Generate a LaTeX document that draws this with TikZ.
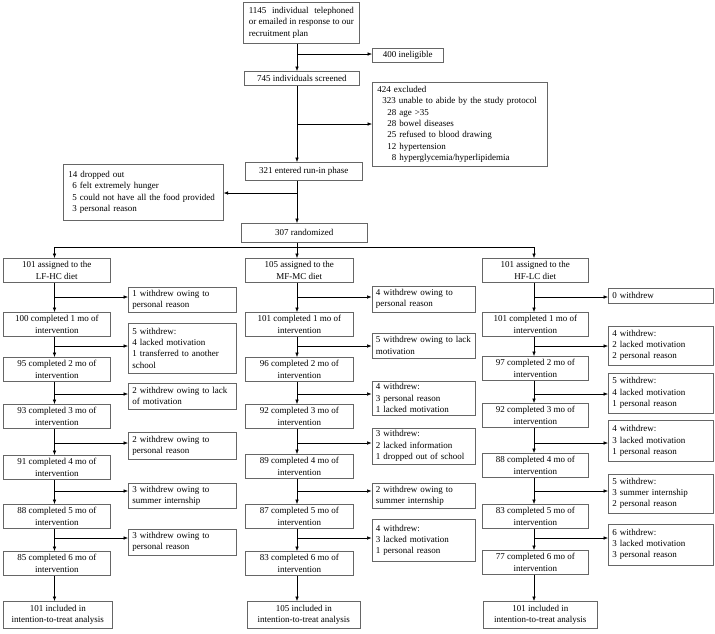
\documentclass[tikz,border=0pt]{standalone}
\usepackage{fontspec}
\setmainfont{Liberation Serif}
\usetikzlibrary{arrows.meta}
\newcommand{\fsz}{\fontsize{9pt}{11.3pt}\selectfont}
\definecolor{bcol}{gray}{0.4}
\hyphenpenalty=10000
\exhyphenpenalty=10000
\begin{document}
\begin{tikzpicture}[x=1pt,y=-1pt,
  bx/.style={draw=bcol, line width=0.6pt, font=\fsz, inner xsep=4pt, inner ysep=2.5pt},
  cb/.style={bx, align=center, anchor=north west},
  mb/.style={cb, minimum width=#1, minimum height=24pt},
  lb/.style={bx, align=left, anchor=west, text width=#1},
  arr/.style={-{Latex[length=4.5pt,width=3.6pt]}, line width=0.6pt, draw=black},
  ln/.style={line width=0.6pt, draw=black}]
\useasboundingbox (0,0) rectangle (715,633);

% ---------- top part ----------
\node[bx, anchor=north west, align=justify, text width=105pt, inner xsep=5.5pt, minimum height=41pt] (A) at (243,2)
  {1145 individual telephoned\linebreak or emailed in response to our\linebreak recruitment plan};
\node[cb, minimum width=71pt, minimum height=14pt, inner ysep=1.5pt] (B) at (372,48) {400 ineligible};
\node[cb, minimum width=115pt, minimum height=14pt, inner ysep=1.5pt] (C) at (244,71) {745 individuals screened};
\node[bx, anchor=north west, align=left, text width=165pt, inner xsep=5pt, minimum height=84pt] (D) at (372,82)
  {424 excluded\\
   \hspace*{5pt}323 unable to abide by the study protocol\\
   \hspace*{10pt}28 age >35\\
   \hspace*{10pt}28 bowel diseases\\
   \hspace*{10pt}25 refused to blood drawing\\
   \hspace*{10pt}12 hypertension\\
   \hspace*{10pt}\phantom{0}8 hyperglycemia/hyperlipidemia};
\node[cb, minimum width=117pt, minimum height=18pt] (E) at (245,162) {321 entered run-in phase};
\node[bx, anchor=north west, align=left, text width=150pt, inner xsep=5pt, minimum height=56pt] (F) at (63,164)
  {14 dropped out\\
   \hspace*{4pt}6 felt extremely hunger\\
   \hspace*{4pt}5 could not have all the food provided\\
   \hspace*{4pt}3 personal reason};
\node[cb, minimum width=126pt, minimum height=19pt] (G) at (241,223) {307 randomized};

\coordinate (tx) at (297,0);
\draw[arr] (A.south -| tx) -- (C.north -| tx);
\coordinate (jB) at (297,54);
\draw[arr] (jB) -- (jB -| B.west);
\draw[arr] (C.south -| tx) -- (E.north -| tx);
\coordinate (jD) at (297,124);
\draw[arr] (jD) -- (jD -| D.west);
\draw[arr] (E.south -| tx) -- (G.north -| tx);
\coordinate (jF) at (297,193);
\draw[arr] (jF) -- (jF -| F.east);

% ---------- columns ----------
\coordinate (c1) at (54.5,247);
\coordinate (c2) at (297,247);
\coordinate (c3) at (534,247);
\draw[ln] (G.south -| tx) -- (c2);
\draw[ln] (c1) -- (c3);

% column 1
\node[mb=107pt] (m10) at (3,258) {101 assigned to the\\LF-HC diet};
\node[mb=107pt] (m11) at (3,312) {100 completed 1 mo of\\intervention};
\node[mb=107pt] (m12) at (3,357) {95 completed 2 mo of\\intervention};
\node[mb=107pt] (m13) at (3,404) {93 completed 3 mo of\\intervention};
\node[mb=107pt] (m14) at (3,455) {91 completed 4 mo of\\intervention};
\node[mb=107pt] (m15) at (3,504) {88 completed 5 mo of\\intervention};
\node[mb=107pt] (m16) at (3,551) {85 completed 6 mo of\\intervention};
\node[mb=109pt, minimum height=27pt] (i1) at (3,601) {101 included in\\intention-to-treat analysis};

% column 2
\node[mb=108pt] (m20) at (245,258) {105 assigned to the\\MF-MC diet};
\node[mb=108pt] (m21) at (245,312) {101 completed 1 mo of\\intervention};
\node[mb=108pt] (m22) at (245,357) {96 completed 2 mo of\\intervention};
\node[mb=108pt] (m23) at (245,404) {92 completed 3 mo of\\intervention};
\node[mb=108pt] (m24) at (245,454) {89 completed 4 mo of\\intervention};
\node[mb=108pt] (m25) at (245,504) {87 completed 5 mo of\\intervention};
\node[mb=108pt] (m26) at (245,551) {83 completed 6 mo of\\intervention};
\node[mb=113pt, minimum height=27pt] (i2) at (247,601) {105 included in\\intention-to-treat analysis};

% column 3
\node[mb=106pt] (m30) at (482,258) {101 assigned to the\\HF-LC diet};
\node[mb=106pt] (m31) at (482,312) {101 completed 1 mo of\\intervention};
\node[mb=106pt] (m32) at (482,356) {97 completed 2 mo of\\intervention};
\node[mb=106pt] (m33) at (482,403) {92 completed 3 mo of\\intervention};
\node[mb=106pt] (m34) at (482,453) {88 completed 4 mo of\\intervention};
\node[mb=106pt] (m35) at (482,504) {83 completed 5 mo of\\intervention};
\node[mb=106pt] (m36) at (482,550) {77 completed 6 mo of\\intervention};
\node[mb=114pt, minimum height=27pt] (i3) at (483,601) {101 included in\\intention-to-treat analysis};

% side boxes column 1
\node[lb=100pt, minimum height=25pt] (s11) at (128,299.5) {1 withdrew owing to\\personal reason};
\node[lb=100pt, minimum height=50pt] (s12) at (128,348) {5 withdrew:\\4 lacked motivation\\1 transferred to another\\school};
\node[lb=100pt, minimum height=26pt] (s13) at (128,396) {2 withdrew owing to lack\\of motivation};
\node[lb=100pt, minimum height=27pt] (s14) at (128,446) {2 withdrew owing to\\personal reason};
\node[lb=100pt, minimum height=25pt] (s15) at (128,496) {3 withdrew owing to\\summer internship};
\node[lb=100pt, minimum height=26pt] (s16) at (128,542) {3 withdrew owing to\\personal reason};

% side boxes column 2
\node[lb=95pt, minimum height=26pt] (s21) at (371.5,299) {4 withdrew owing to\\personal reason};
\node[lb=95pt, minimum height=25pt] (s22) at (371.5,345.5) {5 withdrew owing to lack\\motivation};
\node[lb=95pt] (s23) at (371.5,398) {4 withdrew:\\3 personal reason\\1 lacked motivation};
\node[lb=95pt] (s24) at (371.5,446) {3 withdrew:\\2 lacked information\\1 dropped out of school};
\node[lb=95pt, minimum height=25pt] (s25) at (371.5,495.5) {2 withdrew owing to\\summer internship};
\node[lb=95pt, minimum height=42pt] (s26) at (371.5,540.5) {4 withdrew:\\3 lacked motivation\\1 personal reason};

% side boxes column 3
\node[lb=97pt, minimum height=15pt, inner ysep=1.5pt] (s31) at (608,295.5) {0 withdrew};
\node[lb=97pt, minimum height=39pt] (s32) at (608,345.5) {4 withdrew:\\2 lacked motivation\\2 personal reason};
\node[lb=97pt, minimum height=40pt] (s33) at (608,393) {5 withdrew:\\4 lacked motivation\\1 personal reason};
\node[lb=97pt, minimum height=41pt] (s34) at (608,441) {4 withdrew:\\3 lacked motivation\\1 personal reason};
\node[lb=97pt, minimum height=39pt] (s35) at (608,493.5) {5 withdrew:\\3 summer internship\\2 personal reason};
\node[lb=97pt, minimum height=41pt] (s36) at (608,544.5) {6 withdrew:\\3 lacked motivation\\3 personal reason};

% vertical connectors
\foreach \c in {1,2,3} {
  \draw[arr] (c\c) -- (m\c0.north -| c\c);
  \foreach \k/\n in {0/1,1/2,2/3,3/4,4/5,5/6} {
    \draw[arr] (m\c\k.south -| c\c) -- (m\c\n.north -| c\c);
  }
  \draw[arr] (m\c6.south -| c\c) -- (i\c.north -| c\c);
}
% side arrows
\foreach \c/\cx in {1/54.5,2/297,3/534} {
  \foreach \k/\yy in {1/297,2/346,3/394,4/443,5/491,6/538} {
    \coordinate (j\c\k) at (\cx,\yy);
    \draw[arr] (j\c\k) -- (j\c\k -| s\c\k.west);
  }
}
\end{tikzpicture}
\end{document}
